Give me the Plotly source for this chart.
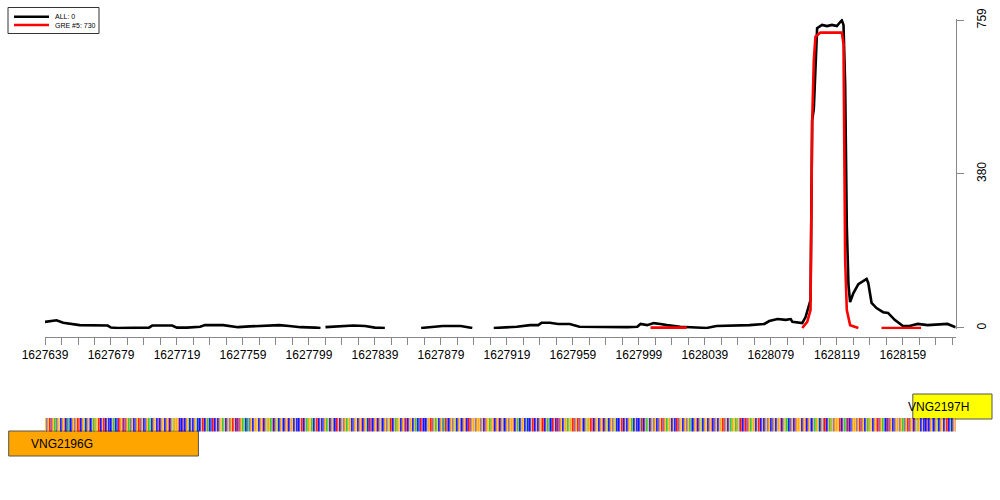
import numpy as np
import plotly.graph_objects as go

# ---- data -------------------------------------------------------------
x_start, x_end = 1627639, 1628191

# "ALL" coverage track (None = gap)
all_pos = [1627639, 1627643, 1627646, 1627650, 1627654, 1627658, 1627660, 1627677, 1627679,
           1627683, 1627702, 1627704, 1627716, 1627719, 1627725, 1627733, 1627736, 1627747,
           1627751, 1627756, 1627763, 1627772, 1627781, 1627787, 1627794, 1627803, 1627806,
           1627807,
           1627809, 1627818, 1627826, 1627833, 1627839, 1627845, 1627846,
           1627867, 1627872, 1627880, 1627891, 1627895, 1627898, 1627899,
           1627911, 1627919, 1627925, 1627933, 1627938, 1627940, 1627945, 1627950, 1627957,
           1627963, 1627977, 1627992, 1627998, 1628000, 1628004, 1628008, 1628012, 1628016,
           1628024, 1628034, 1628040, 1628046, 1628066, 1628075, 1628078, 1628083, 1628088,
           1628091, 1628092, 1628098, 1628100, 1628103, 1628104, 1628105, 1628106, 1628107,
           1628110, 1628113, 1628116, 1628119, 1628121, 1628122, 1628123, 1628124, 1628125,
           1628126, 1628127, 1628129, 1628132, 1628135, 1628137, 1628138, 1628140, 1628143,
           1628147, 1628150, 1628154, 1628159, 1628163, 1628168, 1628174, 1628186, 1628191]
all_val = [15, 18, 19, 13, 11, 9, 7, 6, 1,
           0, 1, 6, 6, 1, 1, 3, 7, 7,
           4, 2, 4, 5, 7, 5, 2, 1, 0,
           None,
           2, 5, 6, 5, 1, 0, None,
           0, 2, 5, 5, 2, 0, None,
           0, 1, 3, 7, 7, 13, 13, 10, 10,
           3, 2, 2, 3, 10, 7, 12, 10, 7,
           3, 2, 0, 5, 7, 10, 17, 22, 20,
           22, 15, 12, 27, 69, 512, 540, 660, 739,
           747, 744, 747, 744, 754, 758, 747, 600, 250,
           106, 64, 86, 108, 116, 121, 111, 62, 49,
           39, 37, 20, 5, 5, 10, 7, 10, 2]

# "GRE #5" track (None = gap)
gre_pos = [1628006, 1628028, 1628029,
           1628098, 1628101, 1628103, 1628104, 1628105, 1628106, 1628109, 1628122, 1628123,
           1628124, 1628125, 1628127, 1628132, 1628133,
           1628146, 1628170]
gre_val = [1, 1, None,
           0, 15, 44, 510, 660, 718, 728, 728, 700,
           168, 44, 7, 0, None,
           0, 0]

legend_labels = ["ALL: 0", "GRE #5: 730"]
line_colors = ["black", "red"]

y_ticks = [0, 380, 759]
x_tick_vals = list(range(x_start, 1628190, 10))
x_tick_text = [str(v) if (v - x_start) % 40 == 0 else "" for v in x_tick_vals]

sequence = (
    "GCGTCGACGGCGTCACCGCGTTCGACGCCGAGGTCGTCGCCGACCTGCTC"
    "GACGCCGTCGCCGAACGGCTCGGCGTCGAGGTCCTCGACGCGACCGTCGA"
    "CCTCGCGGAGCGCGTGCTCGAACACGCGGGCGTCGAGATCGACGCCGTCG"
    "GCGCCGTCGAGGACGTCGCCGAGCGCCTGCGCGAGGCCGGCGTCGACTCC"
    "GTCGCCGCGATCGAGGCGCTCGGCGACCTCCCGGTCGAGCGCATCCGCGA"
    "CGCCGTCTCGGCGGCGCTGGAGTCGTCGCCGCGGTCGACGGCACCGTCGC"
    "GTTCGACCTGCTCGCGGAGGTCGTCGCCGAGTTCGGCGTCGACGCGACCG"
    "TCGCGGACGCCATCGAGCGCGCCGTCGAGGCGCTCGGCGCGACCGTCGAC"
    "GGCGTCCGCGGTCGCGAGGAGCTCTTCGAGGCGTCGCGCGCCGCGGTCGA"
    "ACCGCTGGGCGTCGCCGAGACGCTCGAGCGGGTCGACTCCGGCGTCGCGA"
    "GGCGTTCGACCTCGCCGGCGACGTCGTCGAGCGCCTCGCCGACGGCGTCA"
    "CGT"
)
base_colors = {"A": "#22c022", "C": "#0000ff", "G": "#ffa500", "T": "#ff0000"}

gene_names = ["VNG2196G", "VNG2197H"]
gene_start = [1627617, 1628165]
gene_end = [1627732, 1628213]
gene_label_pos = [1627629, 1628161]
gene_colors = ["#ffa500", "#ffff00"]
gene_rows = [1, 0]  # 0 = upper row, 1 = lower row

# ---- helpers (pixel -> paper) -------------------------------------------
W, H = 1000, 500
def px(x):
    return x / W
def py(y):
    return 1 - y / H

xdom = [px(45), px(955.7)]
fig = go.Figure()

for pos, val, col, name in [(all_pos, all_val, line_colors[0], legend_labels[0]),
                            (gre_pos, gre_val, line_colors[1], legend_labels[1])]:
    fig.add_trace(go.Scatter(x=pos, y=val, mode="lines", name=name, showlegend=False,
                             connectgaps=False, line=dict(color=col, width=2.6),
                             xaxis="x", yaxis="y"))

# sequence strip
codes = {"A": 0, "C": 1, "G": 2, "T": 3}
z = [[codes[b] for b in sequence]]
seq_x = list(range(x_start, x_start + len(sequence)))
cs = []
for i, b in enumerate("ACGT"):
    cs += [[i / 4, base_colors[b]], [(i + 1) / 4, base_colors[b]]]
fig.add_trace(go.Heatmap(z=z, x=seq_x, y=[0], colorscale=cs, zmin=-0.5, zmax=3.5, xgap=0.4,
                         showscale=False, hoverinfo="skip", xaxis="x", yaxis="y2"))

# full-width genomic axis for gene boxes
span = (x_end - x_start) / (xdom[1] - xdom[0])
x3_range = [x_start - xdom[0] * span, x_end + (1 - xdom[1]) * span]

shapes = []
annotations = []
row_y = {0: (394, 419), 1: (431, 456)}
for name, s, e, lp, c, r in zip(gene_names, gene_start, gene_end, gene_label_pos, gene_colors, gene_rows):
    y0, y1 = row_y[r]
    shapes.append(dict(type="rect", xref="x3", yref="paper", x0=s, x1=e, y0=py(y1), y1=py(y0),
                       fillcolor=c, line=dict(color="#555555", width=1), layer="below"))
    annotations.append(dict(xref="x3", yref="paper", x=lp, y=py((y0 + y1) / 2), text=name,
                            showarrow=False, xanchor="left", yanchor="middle",
                            font=dict(size=12, color="black")))

# legend box
shapes.append(dict(type="rect", xref="paper", yref="paper", x0=px(8), x1=px(99), y0=py(33.5), y1=py(7.5),
                   line=dict(color="#333333", width=1), fillcolor="white"))
for i, (lab, col) in enumerate(zip(legend_labels, line_colors)):
    yy = 16.7 + i * 8.3
    shapes.append(dict(type="line", xref="paper", yref="paper", x0=px(14), x1=px(49), y0=py(yy), y1=py(yy),
                       line=dict(color=col, width=2.6)))
    annotations.append(dict(xref="paper", yref="paper", x=px(53), y=py(yy), text=lab, showarrow=False,
                            xanchor="left", yanchor="middle", font=dict(size=7, color="black")))

fig.update_layout(
    width=W, height=H,
    margin=dict(l=0, r=0, t=0, b=0, autoexpand=False),
    paper_bgcolor="white", plot_bgcolor="rgba(0,0,0,0)",
    font=dict(family="Liberation Sans", size=12, color="black"),
    showlegend=False,
    xaxis=dict(domain=xdom, range=[x_start, x_end], anchor="free", position=py(337),
               showline=True, linecolor="#888888", linewidth=1,
               ticks="outside", ticklen=7, tickcolor="#888888",
               tickvals=x_tick_vals, ticktext=x_tick_text,
               showgrid=False, zeroline=False),
    yaxis=dict(domain=[py(329.2), py(18.8)], range=[-3, 762], side="right",
               showline=True, linecolor="#888888", linewidth=1,
               ticks="outside", ticklen=7, tickcolor="#888888",
               tickvals=y_ticks, tickangle=-90, ticklabelstandoff=8,
               showgrid=False, zeroline=False),
    yaxis2=dict(domain=[py(431.5), py(418)], range=[-0.5, 0.5], visible=False, anchor="x"),
    xaxis3=dict(domain=[0, 1], range=x3_range, visible=False, anchor="y3"),
    yaxis3=dict(domain=[0, 1], range=[0, 1], visible=False, anchor="x3"),
    shapes=shapes,
    annotations=annotations,
)

fig.write_html("out.html", config={"displayModeBar": False},
               post_script="document.body.style.margin='0';")
